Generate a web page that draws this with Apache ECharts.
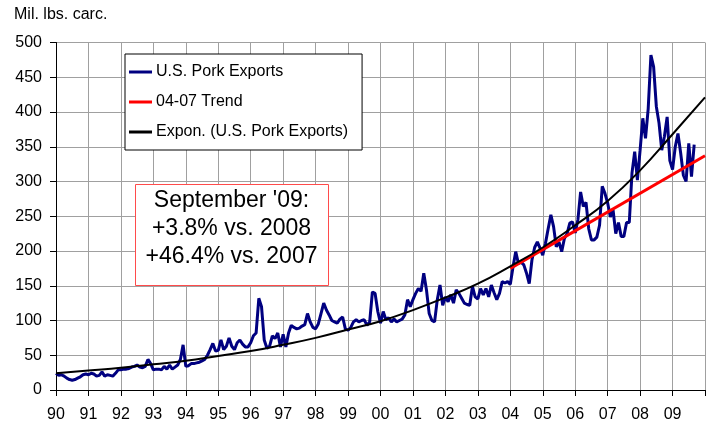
<!DOCTYPE html>
<html><head><meta charset="utf-8">
<script src="https://cdn.jsdelivr.net/npm/echarts@6/dist/echarts.min.js"></script>
<style>html,body{margin:0;padding:0;background:#fff}#c{width:708px;height:423px}</style>
</head><body><div id="c"></div>
<script>
// Monthly U.S. pork exports, mil. lbs. carcass weight, Jan 1990 onward
const startYear = 1990;
const exports1990s = [
  24, 21, 22, 20, 17, 15, 14, 15, 17, 19, 22, 23,        // 1990
  22, 24, 23, 20, 21, 26, 20, 22, 21, 20, 24, 29,        // 1991
  29, 30, 30, 31, 33, 34, 36, 33, 32, 34, 44, 38,        // 1992
  29, 30, 30, 29, 34, 30, 36, 30, 33, 36, 44, 65,        // 1993
  34, 35, 38, 38, 39, 40, 42, 44, 50, 58, 67, 56,        // 1994
  57, 72, 58, 63, 75, 63, 58, 68, 72, 66, 62, 62,        // 1995
  68, 78, 82, 132, 120, 72, 60, 63, 78, 74, 82, 62,      // 1996
  80, 62, 82, 93, 90, 88, 89, 92, 94, 110, 98, 90,       // 1997
  88, 95, 110, 125, 115, 108, 100, 98, 96, 102, 105, 88, // 1998
  86, 90, 98, 101, 98, 100, 101, 93, 98, 141, 139, 113   // 1999
];
const exports2000s = [
  96, 113, 101, 104, 98, 102, 98, 100, 102, 108, 130, 120,   // 2000
  130, 139, 146, 142, 168, 144, 110, 100, 98, 130, 151, 122, // 2001
  134, 127, 137, 125, 144, 139, 132, 125, 123, 122, 149, 134,// 2002
  131, 146, 137, 146, 134, 151, 140, 130, 139, 156, 154, 156,// 2003
  152, 177, 199, 182, 184, 180, 168, 153, 187, 205, 213, 204,// 2004
  194, 211, 232, 252, 235, 206, 213, 199, 218, 225, 240, 242,// 2005
  226, 245, 285, 264, 270, 232, 216, 216, 220, 237, 293, 283,// 2006
  269, 249, 259, 225, 241, 221, 221, 241, 241, 312, 343, 302,// 2007
  345, 391, 362, 405, 482, 465, 408, 384, 345, 365, 393, 330,// 2008
  317, 350, 369, 341, 309, 300, 355, 307, 353                // 2009 (Jan-Sep)
];
// 04-07 linear trend, read at its ends
const trendYears = [2004, 2010];
const trendValues = [175, 337];
// Exponential trend, read at each year boundary
const exponYears = [1990,1991,1992,1993,1994,1995,1996,1997,1998,1999,2000,2001,2002,2003,2004,2005,2006,2007,2008,2009,2010];
const exponValues = [24, 28, 32, 37, 42, 49, 56, 65, 75, 87, 99, 115, 133, 153, 178, 205, 237, 272, 316, 368, 421];
const tickLabels = ['90','91','92','93','94','95','96','97','98','99','00','01','02','03','04','05','06','07','08','09'];

const monthly = exports1990s.concat(exports2000s);
const exportData = monthly.map((v, i) => [startYear + i / 12, v]);
const trendData = trendYears.map((y, i) => [y, trendValues[i]]);
const exponData = exponYears.map((y, i) => [y, exponValues[i]]);

const FONT = "'Liberation Sans', Arial, sans-serif";
const chart = echarts.init(document.getElementById('c'), null, {renderer: 'canvas'});
chart.setOption({
  animation: false,
  backgroundColor: '#fff',
  grid: {left: 56, right: 2, top: 42.5, bottom: 33},
  xAxis: {
    type: 'value', min: 1990, max: 2010, interval: 1,
    axisLine: {show: true, lineStyle: {color: '#000', width: 1}},
    axisTick: {show: true, length: 6, lineStyle: {color: '#000'}},
    axisLabel: {
      margin: 17, color: '#000', fontSize: 16, fontFamily: FONT,
      formatter: v => { const i = Math.round(v) - startYear; return tickLabels[i] || ''; }
    },
    splitLine: {show: true, lineStyle: {color: '#A0A0A0', width: 1}}
  },
  yAxis: {
    type: 'value', min: 0, max: 500, interval: 50,
    axisLine: {show: true, lineStyle: {color: '#000', width: 1}},
    axisTick: {show: true, length: 6, lineStyle: {color: '#000'}},
    axisLabel: {margin: 14, color: '#000', fontSize: 16, fontFamily: FONT},
    splitLine: {show: true, lineStyle: {color: '#A0A0A0', width: 1}}
  },
  legend: {
    left: 125, top: 54, orient: 'vertical',
    backgroundColor: '#fff', borderColor: '#000', borderWidth: 1,
    padding: [10, 14, 10, 4], itemGap: 14, itemWidth: 23, itemHeight: 3,
    icon: 'rect', itemStyle: {borderWidth: 0},
    textStyle: {fontSize: 16, fontFamily: FONT, color: '#000', lineHeight: 16, padding: [0, 0, 0, -1]},
    data: ['U.S. Pork Exports', '04-07 Trend', 'Expon. (U.S. Pork Exports)']
  },
  graphic: [
    {type: 'text', left: 14, top: 7, style: {text: 'Mil. lbs. carc.', fontSize: 16, fontFamily: FONT, fill: '#000'}},
    {type: 'rect', shape: {x: 135.5, y: 184.5, width: 193, height: 101}, style: {fill: '#fff', stroke: '#FF4B4B', lineWidth: 1}, z: 100},
    {type: 'text', x: 231.5, y: 229, z: 101, style: {
      text: "September '09:\n+3.8% vs. 2008\n+46.4% vs. 2007",
      fontSize: 23, fontFamily: FONT, fill: '#000', lineHeight: 28,
      align: 'center', verticalAlign: 'middle'}}
  ],
  series: [
    {name: 'U.S. Pork Exports', type: 'line', data: exportData, symbol: 'none',
     lineStyle: {color: '#000080', width: 3}, itemStyle: {color: '#000080'}, z: 2},
    {name: '04-07 Trend', type: 'line', data: trendData, symbol: 'none',
     lineStyle: {color: '#FF0000', width: 3}, itemStyle: {color: '#FF0000'}, z: 3},
    {name: 'Expon. (U.S. Pork Exports)', type: 'line', data: exponData, symbol: 'none', smooth: true,
     lineStyle: {color: '#000', width: 2}, itemStyle: {color: '#000'}, z: 4}
  ]
});
</script></body></html>
